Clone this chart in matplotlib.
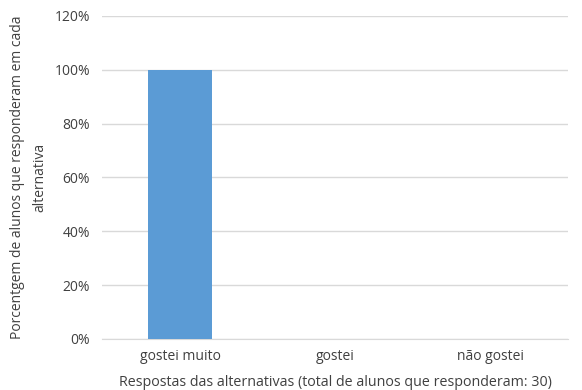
import matplotlib
matplotlib.use("Agg")
import matplotlib.pyplot as plt
from matplotlib.ticker import PercentFormatter

# dados do grafico
categorias = ["gostei muito", "gostei", "não gostei"]
porcentagens = [100, 0, 0]
yticks = [0, 20, 40, 60, 80, 100, 120]

plt.rcParams['font.family'] = ['Open Sans', 'DejaVu Sans']

fig = plt.figure(figsize=(5.82, 3.9), dpi=100)
ax = fig.add_axes([0.176, 0.131, 0.80, 0.828])

x = range(len(categorias))
ax.bar(x, porcentagens, width=0.41, color='#5B9BD5', zorder=3)

ax.set_xlim(-0.5, len(categorias) - 0.5)
ax.set_ylim(0, 120)
ax.set_yticks(yticks)
ax.yaxis.set_major_formatter(PercentFormatter(decimals=0))
ax.set_xticks(list(x))
ax.set_xticklabels(categorias)

ax.grid(axis='y', color='#D9D9D9', linewidth=1, zorder=0)
for s in ['top', 'right', 'left']:
    ax.spines[s].set_visible(False)
ax.spines['bottom'].set_color('#D9D9D9')
ax.tick_params(axis='both', length=0, labelsize=10, colors='#404040')
ax.tick_params(axis='x', pad=7)
ax.tick_params(axis='y', pad=9)

ax.set_xlabel("Respostas das alternativas (total de alunos que responderam: 30)",
              fontsize=10.3, color='#404040', labelpad=8)
ax.set_ylabel("Porcentgem de alunos que responderam em cada\nalternativa",
              fontsize=10, color='#404040', labelpad=5, linespacing=1.7)

fig.savefig("out.png", dpi=100)
